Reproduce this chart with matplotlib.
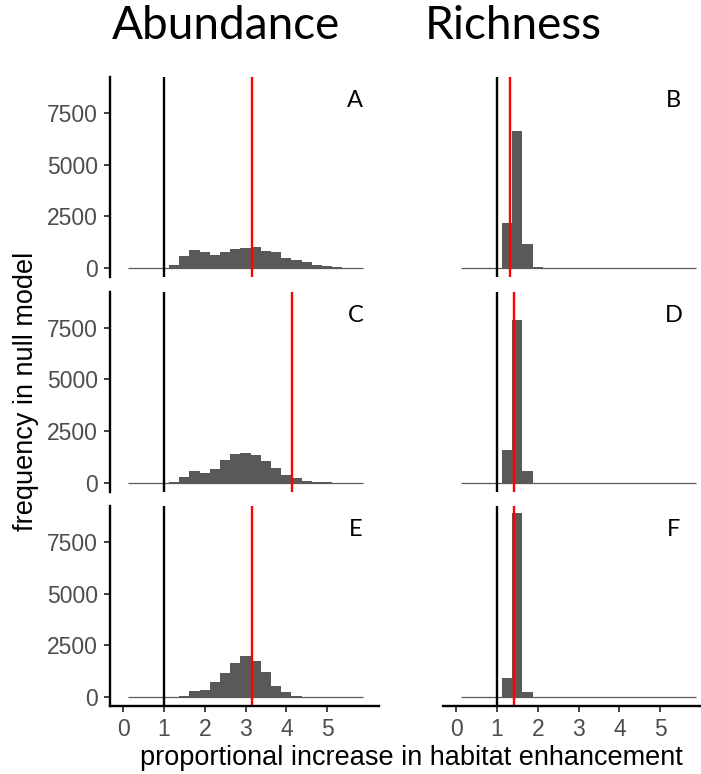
import numpy as np
import matplotlib
matplotlib.use('Agg')
from matplotlib import pyplot as plt

# histogram bins (width 0.25)
bin_edges = np.linspace(0.125, 5.875, 24)

# counts per bin, 23 bins, centres 0.25 .. 5.75
counts_A = [0, 0, 0, 0, 163, 600, 894, 764, 650, 797, 943, 992, 1040, 846, 764, 504, 407, 276, 163, 81, 49, 10, 5]
counts_C = [0, 0, 0, 0, 33, 276, 570, 472, 667, 1106, 1398, 1447, 1317, 1057, 715, 374, 228, 81, 33, 10, 0, 0, 0]
counts_E = [0, 0, 0, 0, 5, 65, 276, 325, 715, 1154, 1675, 1984, 1772, 1203, 553, 228, 65, 10, 0, 0, 0, 0, 0]
counts_B = [0, 0, 0, 0, 2163, 6650, 1154, 65, 0, 0, 0, 0, 0, 0, 0, 0, 0, 0, 0, 0, 0, 0, 0]
counts_D = [0, 0, 0, 0, 1561, 7854, 585, 0, 0, 0, 0, 0, 0, 0, 0, 0, 0, 0, 0, 0, 0, 0, 0]
counts_F = [0, 0, 0, 0, 943, 8894, 228, 0, 0, 0, 0, 0, 0, 0, 0, 0, 0, 0, 0, 0, 0, 0, 0]

observed = {'A': 3.17, 'B': 1.33, 'C': 4.13, 'D': 1.42, 'E': 3.17, 'F': 1.41}
null_line = 1.0

panel_letters = [['A', 'B'], ['C', 'D'], ['E', 'F']]
panel_counts = {'A': counts_A, 'B': counts_B, 'C': counts_C,
                'D': counts_D, 'E': counts_E, 'F': counts_F}
col_titles = ['Abundance', 'Richness']
y_ticks = [0, 2500, 5000, 7500]
x_ticks = [0, 1, 2, 3, 4, 5]

W, H = 701, 774
fig = plt.figure(figsize=(W / 100, H / 100), dpi=100)

bar_col = '#595959'
tick_col = '#4d4d4d'
lw_axis = 1.7

col_left = [110, 443]
ax_w = 269
row_top = [77, 291.5, 506]
ax_h = 200

for r in range(3):
    for c in range(2):
        letter = panel_letters[r][c]
        ax = fig.add_axes([col_left[c] / W, 1 - (row_top[r] + ax_h) / H, ax_w / W, ax_h / H])
        cnt = np.array(panel_counts[letter])
        ax.bar(bin_edges[:-1], cnt, width=np.diff(bin_edges), align='edge',
               color=bar_col, linewidth=0)
        ax.hlines(0, bin_edges[0], bin_edges[-1], color=bar_col, lw=0.9)
        ax.axvline(null_line, color='black', lw=1.7)
        ax.axvline(observed[letter], color='red', lw=1.7)
        ax.set_xlim(-0.32, 6.27)
        ax.set_ylim(-430, 9250)
        for s in ['top', 'right']:
            ax.spines[s].set_visible(False)
        ax.spines['left'].set_linewidth(lw_axis)
        ax.spines['bottom'].set_linewidth(lw_axis)
        if c == 0:
            ax.set_yticks(y_ticks)
            ax.set_yticklabels([str(v) for v in y_ticks])
            ax.tick_params(axis='y', length=4.5, width=1.3, color='#333333',
                           labelcolor=tick_col, labelsize=16.5, pad=4)
        else:
            ax.spines['left'].set_visible(False)
            ax.set_yticks([])
        if r == 2:
            ax.set_xticks(x_ticks)
            ax.set_xticklabels([str(v) for v in x_ticks])
            ax.tick_params(axis='x', length=4.5, width=1.3, color='#333333',
                           labelcolor=tick_col, labelsize=16.5, pad=4)
        else:
            ax.spines['bottom'].set_visible(False)
            ax.set_xticks([])
        for lab in ax.get_xticklabels() + ax.get_yticklabels():
            lab.set_family('Liberation Sans')
        lx = 5.69 if c == 0 else 5.33
        ax.text(lx, 8110, letter, ha='center', va='center', fontsize=17,
                family='Lato', color='black')

fig.text(226 / W, 1 - 26 / H, col_titles[0], ha='center', va='center',
         fontsize=33, family='Lato')
fig.text(513 / W, 1 - 26 / H, col_titles[1], ha='center', va='center',
         fontsize=33, family='Lato')
fig.text(26 / W, 1 - 391 / H, 'frequency in null model', rotation=90,
         ha='center', va='center', fontsize=19.5, family='Liberation Sans')
fig.text(411 / W, 1 - 758 / H, 'proportional increase in habitat enhancement',
         ha='center', va='center', fontsize=19.5, family='Liberation Sans')

fig.savefig('out.png', dpi=100)
